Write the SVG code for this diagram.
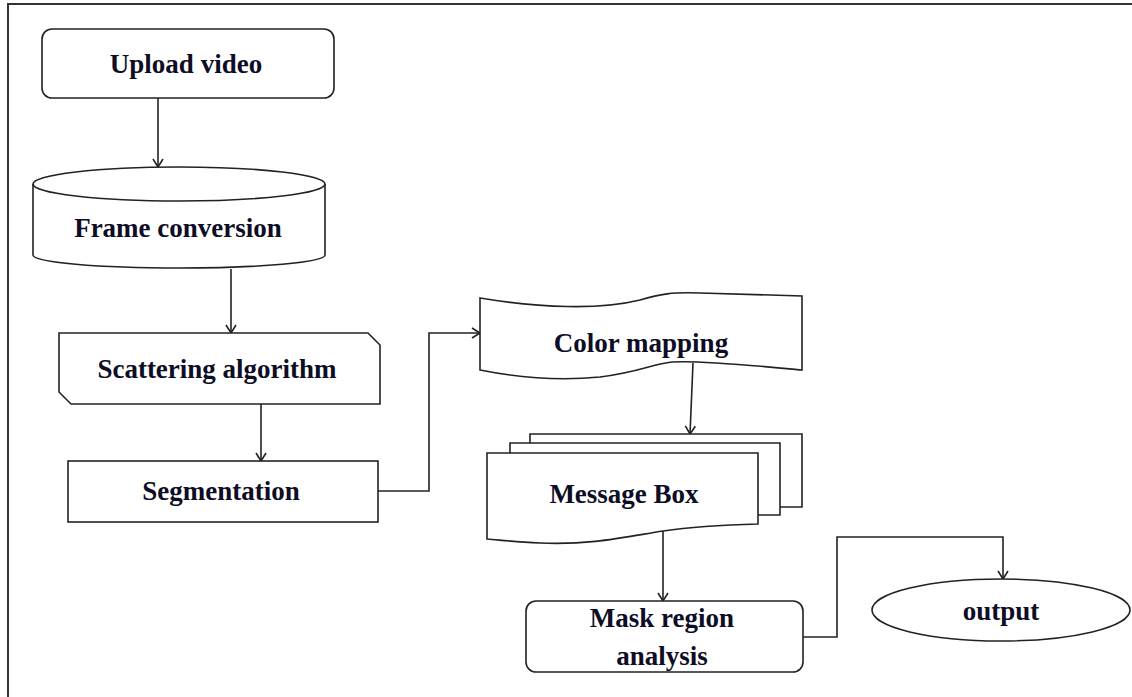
<svg xmlns="http://www.w3.org/2000/svg" width="1132" height="697" viewBox="0 0 1132 697">
<defs>
<style>
.shape{fill:#fff;stroke:#222;stroke-width:1.6}
.conn{fill:none;stroke:#222;stroke-width:1.6}
.lbl{font-family:"Liberation Serif","Times New Roman",serif;font-weight:bold;font-size:27px;fill:#0d0d26;text-anchor:middle}
</style>
<marker id="arr" markerWidth="12" markerHeight="12" refX="10" refY="6" orient="auto" markerUnits="userSpaceOnUse">
<path d="M2,1 L10,6 L2,11" fill="none" stroke="#222" stroke-width="1.6"/>
</marker>
</defs>
<rect x="0" y="0" width="1132" height="697" fill="#fff"/>
<rect x="8" y="4" width="1140" height="710" fill="none" stroke="#333" stroke-width="2"/>
<g id="connectors">
<path class="conn" d="M158,98 V167" marker-end="url(#arr)"/>
<path class="conn" d="M231,269 V333" marker-end="url(#arr)"/>
<path class="conn" d="M261,404 V461" marker-end="url(#arr)"/>
<path class="conn" d="M378,491 H429 V333 H480" marker-end="url(#arr)"/>
<path class="conn" d="M693,363 L690,434" marker-end="url(#arr)"/>
<path class="conn" d="M663,531 V601" marker-end="url(#arr)"/>
<path class="conn" d="M803,637 H837 V537 H1003 V579" marker-end="url(#arr)"/>
</g>
<g id="upload-video">
<rect class="shape" x="42" y="29" width="292" height="69" rx="10"/>
<text class="lbl" x="186" y="73">Upload video</text>
</g>
<g id="frame-conversion">
<path class="shape" d="M33,184 A146,17 0 0,1 325,184 L325,255 A146,13 0 0,1 33,255 Z"/>
<path class="conn" d="M33,184 A146,17 0 0,0 325,184"/>
<text class="lbl" x="178" y="237">Frame conversion</text>
</g>
<g id="scattering-algorithm">
<path class="shape" d="M59,333 L368,333 L380,345 L380,404 L71,404 L59,392 Z"/>
<text class="lbl" x="217" y="378">Scattering algorithm</text>
</g>
<g id="segmentation">
<rect class="shape" x="68" y="461" width="310" height="61"/>
<text class="lbl" x="221" y="500">Segmentation</text>
</g>
<g id="color-mapping">
<path class="shape" d="M480,298 C540,308 600,310 640,300 C660,294 672,292 700,293 L802,296 L802,370 C760,366 700,360 672,362 C652,364 640,372 600,377 C560,381 520,378 480,370 Z"/>
<text class="lbl" x="641" y="352">Color mapping</text>
</g>
<g id="message-box">
<path class="shape" d="M530,443 V434 H802 V507 H780"/>
<path class="shape" d="M510,453 V443 H780 V515 H758"/>
<path class="shape" d="M487,453 L758,453 L758,524 C720,525 690,527 663,531 C620,538 590,545 540,543 C515,542 500,540 487,539 Z"/>
<text class="lbl" x="624" y="503">Message Box</text>
</g>
<g id="mask-region-analysis">
<rect class="shape" x="526" y="601" width="277" height="71" rx="10"/>
<text class="lbl" x="662" y="627">Mask region</text>
<text class="lbl" x="662" y="665">analysis</text>
</g>
<g id="output">
<ellipse class="shape" cx="1001" cy="610" rx="129" ry="31"/>
<text class="lbl" x="1001" y="620">output</text>
</g>
</svg>
